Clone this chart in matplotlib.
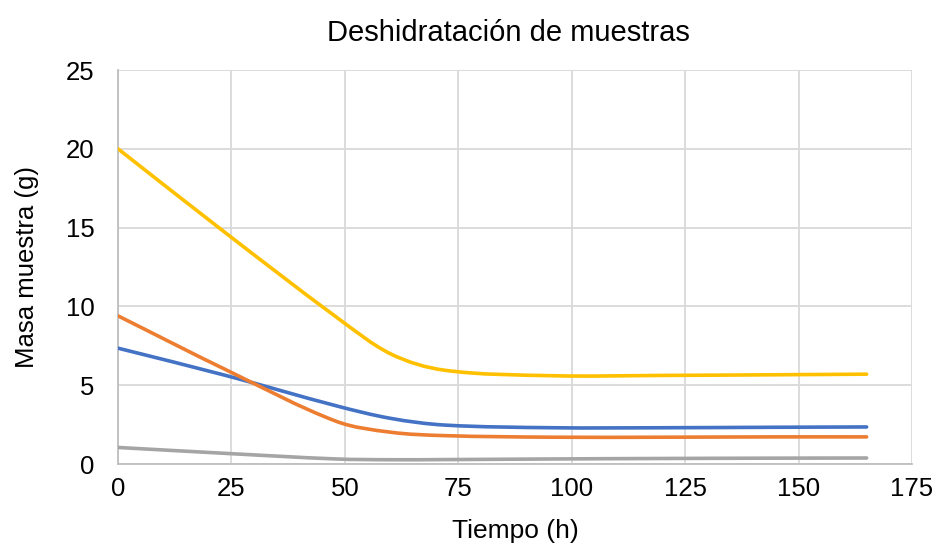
import matplotlib
matplotlib.use("Agg")
import matplotlib.pyplot as plt
from matplotlib.path import Path
from matplotlib.patches import PathPatch
import numpy as np

plt.rcParams['font.family'] = ['Liberation Sans', 'DejaVu Sans']

# Sampling times (h) and sample masses (g)
tiempo = [0, 24, 48, 60, 72, 96, 120, 144, 165]
muestra_azul = [7.35, 5.6, 3.7, 2.9, 2.47, 2.3, 2.3, 2.33, 2.35]
muestra_naranja = [9.4, 5.95, 2.72, 2.02, 1.8, 1.7, 1.7, 1.72, 1.72]
muestra_gris = [1.05, 0.67, 0.32, 0.27, 0.28, 0.32, 0.35, 0.37, 0.38]
muestra_amarilla = [20.0, 14.6, 9.35, 7.0, 5.95, 5.6, 5.62, 5.66, 5.7]

series = [
    (muestra_azul, '#4472C4'),
    (muestra_naranja, '#ED7D31'),
    (muestra_gris, '#A5A5A5'),
    (muestra_amarilla, '#FFC000'),
]

x_ticks = [0, 25, 50, 75, 100, 125, 150, 175]
y_ticks = [0, 5, 10, 15, 20, 25]


def smooth_path(xs, ys):
    """Smooth cubic Bezier path through the points (Hermite, finite-difference slopes)."""
    x = np.asarray(xs, dtype=float)
    y = np.asarray(ys, dtype=float)
    n = len(x)
    m = np.empty(n)
    m[0] = (y[1] - y[0]) / (x[1] - x[0])
    m[-1] = (y[-1] - y[-2]) / (x[-1] - x[-2])
    m[1:-1] = (y[2:] - y[:-2]) / (x[2:] - x[:-2])
    verts = [(x[0], y[0])]
    codes = [Path.MOVETO]
    for i in range(n - 1):
        h = (x[i + 1] - x[i]) / 3.0
        verts += [(x[i] + h, y[i] + m[i] * h),
                  (x[i + 1] - h, y[i + 1] - m[i + 1] * h),
                  (x[i + 1], y[i + 1])]
        codes += [Path.CURVE4] * 3
    return Path(verts, codes)


fig = plt.figure(figsize=(9.42, 5.52), dpi=100)
ax = fig.add_axes([118 / 942, 1 - 464 / 552, 794 / 942, 394 / 552])

for ys, color in series:
    patch = PathPatch(smooth_path(tiempo, ys), facecolor='none', edgecolor=color,
                      lw=2.6, capstyle='round', joinstyle='round', zorder=3)
    ax.add_patch(patch)

ax.set_xlim(0, 175)
ax.set_ylim(0, 25)
ax.set_xticks(x_ticks)
ax.set_yticks(y_ticks)
ax.grid(True, color='#D9D9D9', lw=1.3, zorder=0)
ax.set_axisbelow(True)

for side in ('top', 'right'):
    ax.spines[side].set_visible(False)
for side in ('left', 'bottom'):
    ax.spines[side].set_color('#BFBFBF')
    ax.spines[side].set_linewidth(1.3)

ax.tick_params(axis='both', length=0, labelsize=18.5, colors='black')
ax.tick_params(axis='x', pad=9)
ax.tick_params(axis='y', pad=17)

ax.set_title('Deshidratación de muestras', fontsize=21, pad=21, x=0.492)
ax.set_xlabel('Tiempo (h)', fontsize=19, labelpad=13)
ax.set_ylabel('Masa muestra (g)', fontsize=18.5, labelpad=19)

fig.savefig('out.png', dpi=100, facecolor='white')
